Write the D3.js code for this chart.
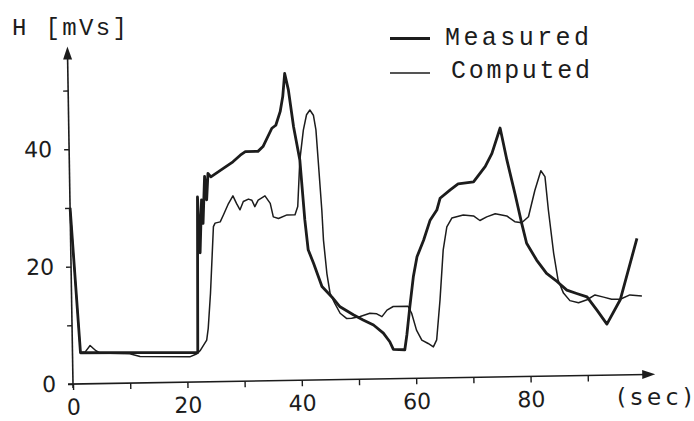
<!DOCTYPE html>
<html>
<head>
<meta charset="utf-8">
<script src="https://cdn.jsdelivr.net/npm/d3@7"></script>
<style>
  html, body { margin: 0; padding: 0; background: #fff; }
  svg { display: block; }
</style>
</head>
<body>
<script>
// ---- data (time in sec, H in mVs) ----
const measuredX = [0,1.4,10,21.9,22.3,22.6,23.0,23.2,23.6,23.9,24.2,24.7,26.9,28.6,29.9,30.8,33.0,33.9,35.5,36.2,37.0,37.5,37.9,38.5,39.3,40.3,41.0,41.5,42.4,43.8,45.5,46.9,49.2,50.9,52.7,54.4,55.5,56.1,58.1,58.5,59.1,59.8,60.5,61.7,62.9,64.1,64.7,66.5,67.9,70.6,72.7,73.9,75.4,76.5,77.8,78.9,79.7,81.4,83.1,84.9,86.6,88.3,90.1,91.8,93.5,95.9,99.0];
const measuredY = [30,5.3,5.2,5.0,31.5,22,31,27,35,31,35.5,34.9,36.3,37.4,38.5,39.1,39.1,39.9,43.0,43.5,45.8,48.4,52.3,49.5,43.2,37.5,27.3,22.2,19.9,15.9,14.1,12.4,11.0,10.1,9.2,7.8,6.3,5.0,4.9,7.4,12.2,17.3,20.7,23.5,26.9,28.6,30.6,32.0,33.0,33.3,35.9,38.1,42.4,36.9,31.2,26.1,22.7,19.8,17.5,16.1,14.6,14.0,13.4,11.1,8.7,12.8,23.2];
const computedX = [0,1.4,2.2,3.1,4.1,4.8,10.0,11.8,20.5,21.75,22.3,23.5,23.8,24.3,25.0,25.3,26.2,26.8,27.7,28.5,29.1,29.7,30.3,31.2,31.8,32.3,32.9,34.1,35.0,35.5,36.4,37.9,39.3,39.8,40.3,41.0,41.6,42.2,42.8,43.2,43.5,44.0,44.2,44.7,45.2,46.0,46.9,48.0,48.9,50.4,52.1,53.3,54.2,55.1,56.2,58.8,59.4,60.2,61.1,62.2,63.1,63.7,64.4,65.1,65.8,66.7,68.7,70.5,71.6,72.8,74.3,76.3,77.7,78.9,80.1,81.3,82.4,83.1,83.6,84.4,85.1,86.0,87.1,88.6,90.1,91.5,93.0,94.4,95.9,97.6,99.7];
const computedY = [30,5.3,5.4,6.5,5.6,5.2,5.0,4.5,4.3,4.8,5.3,7.1,9.1,15.1,26.4,27.0,27.2,28.4,30.3,31.6,30.3,29.2,30.6,31.0,30.8,29.7,30.8,31.5,30.2,27.9,27.6,28.2,28.2,29.6,37.5,42.6,45.2,46.0,45.1,42.6,37.5,28.9,23.8,18.1,14.7,13.0,11.3,10.4,10.4,10.7,11.2,11.1,10.6,11.7,12.3,12.3,11.1,8.2,6.5,5.9,5.3,6.5,13.3,21.8,25.7,27.2,27.7,27.5,26.7,27.3,27.8,27.4,26.4,26.2,27.2,31.7,35.0,34.0,28.3,20.9,16.3,14.1,12.8,12.4,12.9,13.7,13.3,12.9,12.9,13.6,13.4];
const xTicks = [0,10,20,30,40,50,60,70,80,90];
const xTickLabels = ["0","","20","","40","","60","","80",""];
const yTicks = [0,10,20,30,40,50];
const yTickLabels = ["0","","20","","40",""];
const seriesNames = ["Measured","Computed"];
const yAxisTitle = "H [mVs]";
const xAxisTitle = "(sec)";

// ---- drawing ----
const W = 694, H = 421;
const ink = "#1c1c1c";
const svg = d3.select("body").append("svg").attr("width", W).attr("height", H);
svg.append("rect").attr("width", W).attr("height", H).attr("fill", "#fff");

const x = d3.scaleLinear().domain([0, 100]).range([0, 572]);
const y = d3.scaleLinear().domain([0, 60]).range([0, -352.2]);

const g = svg.append("g").attr("transform", "translate(73,384) rotate(-0.95)");

// x axis
const xAxis = d3.axisBottom(x).tickValues(xTicks).tickSize(6).tickPadding(9)
  .tickFormat((d, i) => xTickLabels[i]);
const gx = g.append("g").call(xAxis);
gx.select(".domain").remove();
gx.selectAll(".tick line").attr("stroke", ink).attr("stroke-width", 1.4);
gx.selectAll("text").attr("font-family", "DejaVu Sans").attr("font-size", 22).attr("fill", ink);

// y axis
const yAxis = d3.axisLeft(y).tickValues(yTicks).tickSize(5).tickPadding(12)
  .tickFormat((d, i) => yTickLabels[i]);
const gy = g.append("g").call(yAxis);
gy.select(".domain").remove();
gy.selectAll(".tick line").attr("stroke", ink).attr("stroke-width", 1.4);
gy.selectAll("text").attr("font-family", "DejaVu Sans").attr("font-size", 22).attr("fill", ink);

// axis lines with arrows
const xEnd = x(101.8), yEnd = y(57.5);
g.append("line").attr("x1", -5).attr("y1", 0).attr("x2", xEnd - 8).attr("y2", 0)
  .attr("stroke", ink).attr("stroke-width", 1.6);
g.append("path").attr("d", `M${xEnd},0 L${xEnd - 13},-4.5 L${xEnd - 13},4.5 Z`).attr("fill", ink);
g.append("line").attr("x1", 0).attr("y1", 4).attr("x2", 0).attr("y2", yEnd + 8)
  .attr("stroke", ink).attr("stroke-width", 1.6);
g.append("path").attr("d", `M0,${yEnd} L-4.5,${yEnd + 13} L4.5,${yEnd + 13} Z`).attr("fill", ink);

// series
const line = d3.line().x(d => x(d[0])).y(d => y(d[1])).curve(d3.curveLinear);
const measured = measuredX.map((v, i) => [v, measuredY[i]]);
const computed = computedX.map((v, i) => [v, computedY[i]]);
g.append("path").datum(computed).attr("d", line).attr("fill", "none")
  .attr("stroke", ink).attr("stroke-width", 1.5).attr("stroke-linejoin", "round");
g.append("path").datum(measured).attr("d", line).attr("fill", "none")
  .attr("stroke", ink).attr("stroke-width", 2.8).attr("stroke-linejoin", "round");

// titles
svg.append("text").attr("x", 12).attr("y", 35).text(yAxisTitle)
  .attr("font-family", "Liberation Mono").attr("font-size", 24).attr("fill", ink)
  .attr("textLength", 115).attr("lengthAdjust", "spacing");
svg.append("text").attr("x", 617).attr("y", 405).text(xAxisTitle)
  .attr("font-family", "DejaVu Sans").attr("font-size", 23).attr("fill", ink)
  .attr("textLength", 75).attr("lengthAdjust", "spacing");

// legend
const legY = [38.5, 73], legBase = [45, 78], legW = [2.8, 1.6];
seriesNames.forEach((name, i) => {
  svg.append("line").attr("x1", 390).attr("x2", 430).attr("y1", legY[i]).attr("y2", legY[i])
    .attr("stroke", ink).attr("stroke-width", legW[i]);
  svg.append("text").attr("x", 445 + (i ? 6 : 0)).attr("y", legBase[i]).text(name)
    .attr("font-family", "Liberation Mono").attr("font-size", 25).attr("fill", ink)
    .attr("textLength", i ? 139 : 144).attr("lengthAdjust", "spacing");
});
</script>
</body>
</html>
